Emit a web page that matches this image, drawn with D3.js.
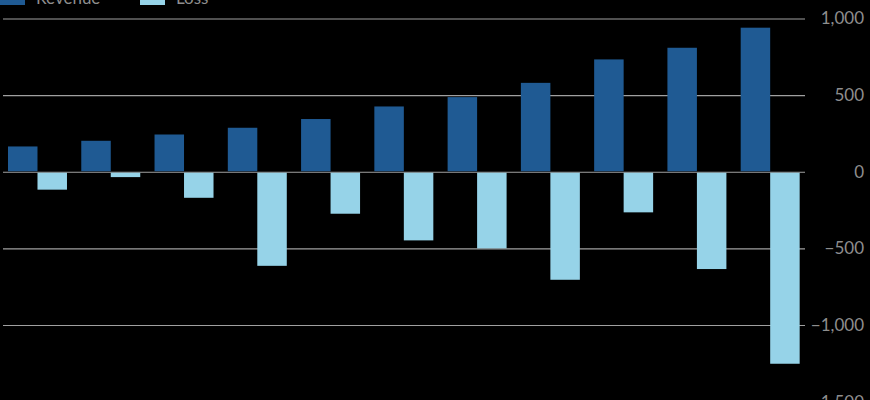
<!DOCTYPE html>
<html>
<head>
<meta charset="utf-8">
<script src="https://cdn.jsdelivr.net/npm/d3@7"></script>
<style>
  html, body { margin: 0; padding: 0; background: #000; }
  svg { display: block; }
  text { font-family: Lato, "Open Sans", sans-serif; }
</style>
</head>
<body>
<svg id="chart" width="870" height="400"></svg>
<script>
const categories = ["1","2","3","4","5","6","7","8","9","10","11"];
const revenue = [165, 202, 243, 287, 344, 426, 487, 580, 733, 809, 940];
const loss = [-117, -35, -170, -614, -274, -448, -500, -705, -265, -635, -1253];
const yTicks = [1000, 500, 0, -500, -1000, -1500];
const seriesNames = ["Revenue", "Loss"];
const colors = ["#1f5a93", "#96d3e8"];

const svg = d3.select("#chart");
const W = 870, H = 400;
svg.append("rect").attr("width", W).attr("height", H).attr("fill", "#000");

const y = d3.scaleLinear().domain([-1500, 1000]).range([401.6, 18.5]);
const x = d3.scaleBand().domain(categories).range([0.67, 807]).paddingInner(0.195).paddingOuter(0.1);
const xs = d3.scaleBand().domain(seriesNames).range([0, x.bandwidth()]).padding(0);

// gridlines + labels
const axis = svg.append("g").attr("transform", "translate(3,0)")
  .call(d3.axisRight(y).tickValues(yTicks).tickSize(802).tickPadding(0)
    .tickFormat(d3.format(",")));
axis.select(".domain").remove();
axis.selectAll(".tick line").attr("stroke", "#a0a0a0").attr("stroke-width", 1.2);
axis.selectAll(".tick text")
  .attr("x", 861).attr("text-anchor", "end")
  .attr("fill", "#8e8e8e").attr("font-size", 17)
  .style("font-family", "Lato, sans-serif");

const data = categories.map((c, i) => ({ c, vals: [revenue[i], loss[i]] }));
const g = svg.append("g");
data.forEach(d => {
  d.vals.forEach((v, j) => {
    g.append("rect")
      .attr("x", x(d.c) + xs(seriesNames[j]))
      .attr("width", xs.bandwidth())
      .attr("y", v >= 0 ? y(v) : y(0) + 1)
      .attr("height", v >= 0 ? y(0) - y(v) - 0.5 : y(v) - y(0) - 1)
      .attr("fill", colors[j]);
  });
});

// legend
const legendX = [0, 140];
seriesNames.forEach((n, i) => {
  svg.append("rect").attr("x", legendX[i]).attr("y", -9).attr("width", 25).attr("height", 14).attr("fill", colors[i]);
  svg.append("text").attr("x", legendX[i] + 36).attr("y", 4)
    .attr("fill", "#8e8e8e").attr("font-size", 17).text(n);
});
</script>
</body>
</html>
